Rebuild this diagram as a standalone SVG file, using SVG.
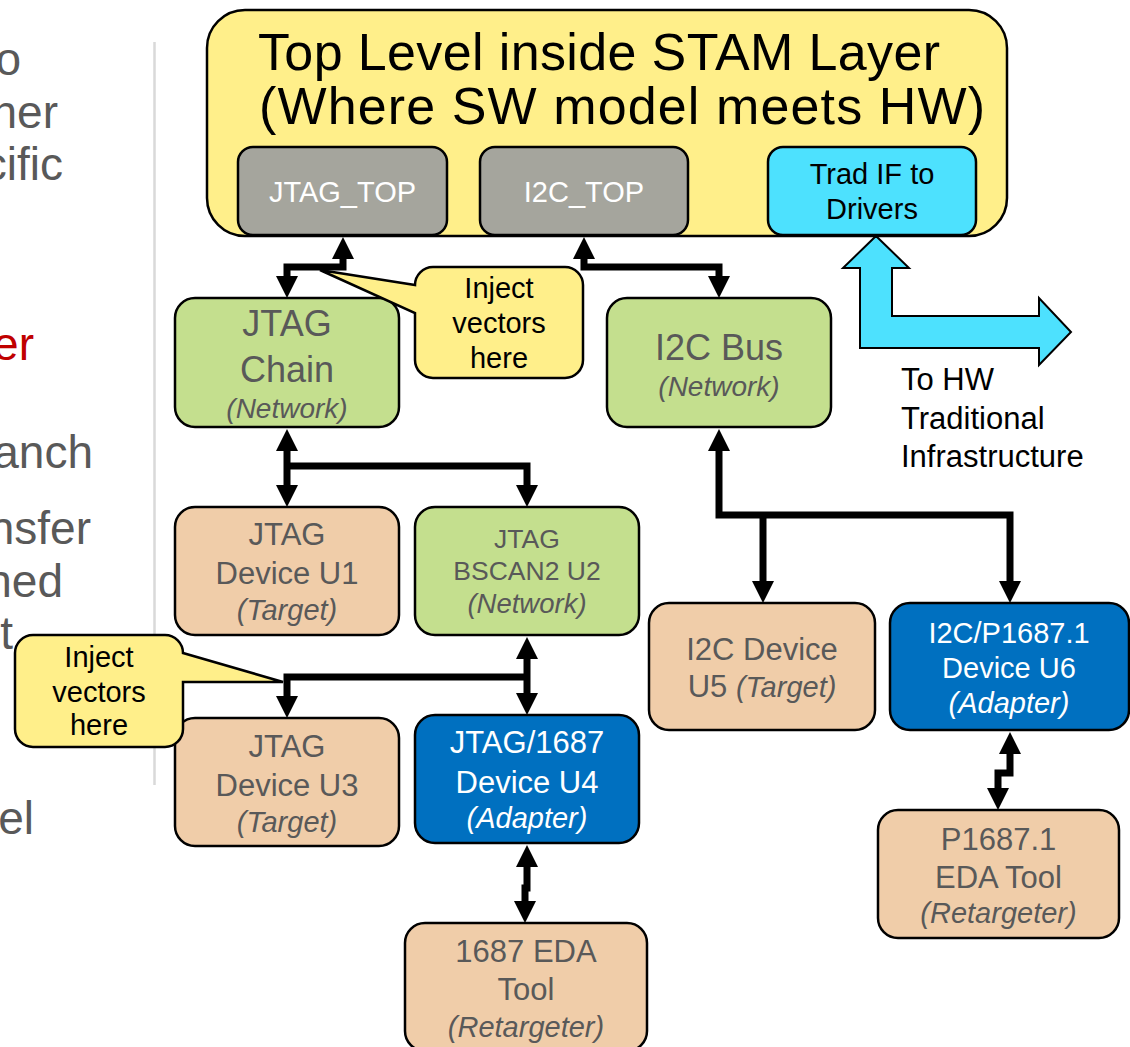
<svg xmlns="http://www.w3.org/2000/svg" width="1130" height="1047" viewBox="0 0 1130 1047">
  <style>
    text { font-family: "Liberation Sans", Arial, sans-serif; }
    .c { text-anchor: middle; }
    .e { text-anchor: end; }
    .box { stroke: #000; stroke-width: 2.5; }
    .green { fill: #C4DF8E; }
    .peach { fill: #F0CDA9; }
    .blue { fill: #0070C0; }
    .gray { fill: #A5A59D; }
    .cyan { fill: #4DE1FE; }
    .yellow { fill: #FFEF8A; }
    .dk { fill: #595959; }
    .wh { fill: #FFFFFF; }
    .bk { fill: #000000; }
    .it { font-style: italic; }
    .side { font-size: 46px; fill: #595959; }
    .conn { stroke: #000; stroke-width: 7; fill: none; marker-end: url(#ah); }
    .both { marker-start: url(#ah); }
  </style>
  <defs>
    <marker id="ah" viewBox="0 -11 22 22" refX="1" refY="0" markerWidth="22" markerHeight="22" markerUnits="userSpaceOnUse" orient="auto-start-reverse">
      <path d="M0,-11 L22,0 L0,11 Z" fill="#000"/>
    </marker>
  </defs>

  <rect width="1130" height="1047" fill="#FFFFFF"/>

  <!-- slide text running off the left edge -->
  <g id="side-text">
    <text class="side e" x="21" y="75">o</text>
    <text class="side e" x="58" y="128">her</text>
    <text class="side e" x="63" y="180">cific</text>
    <text class="side e" x="34" y="360" style="fill:#C00000">er</text>
    <text class="side e" x="93" y="468">anch</text>
    <text class="side e" x="91" y="544">nsfer</text>
    <text class="side e" x="63" y="597">hed</text>
    <text class="side e" x="13" y="649">t</text>
    <text class="side e" x="34" y="834">el</text>
  </g>
  <line x1="154.5" y1="42" x2="154.5" y2="785" stroke="#D9D9D9" stroke-width="2.5"/>

  <!-- top level block -->
  <g id="stam-top">
    <rect class="box yellow" x="207" y="10" width="800" height="226" rx="38"/>
    <text class="bk" x="258" y="70" font-size="52" textLength="682" lengthAdjust="spacing">Top Level inside STAM Layer</text>
    <text class="bk" x="259" y="124" font-size="52" textLength="726" lengthAdjust="spacing">(Where SW model meets HW)</text>
  </g>
  <g id="jtag-top">
    <rect class="box gray" x="238" y="147" width="209" height="88" rx="15"/>
    <text class="c wh" x="342.5" y="202" font-size="29">JTAG_TOP</text>
  </g>
  <g id="i2c-top">
    <rect class="box gray" x="480" y="147" width="208" height="88" rx="15"/>
    <text class="c wh" x="584" y="202" font-size="29">I2C_TOP</text>
  </g>
  <g id="trad-if">
    <rect class="box cyan" x="768" y="147" width="208" height="88" rx="15"/>
    <text class="c bk" x="872" y="184" font-size="29">Trad IF to</text>
    <text class="c bk" x="872" y="219" font-size="29">Drivers</text>
  </g>

  <!-- wide interface arrow to hardware -->
  <g id="hw-arrow">
    <path class="cyan" stroke="#000" stroke-width="2" d="M876,236 L909,268 L892,268 L892,316 L1039,316 L1039,298 L1071,332 L1039,365 L1039,348 L860,348 L860,268 L843,268 Z"/>
    <text class="bk" x="901" y="390" font-size="31">To HW</text>
    <text class="bk" x="901" y="429" font-size="31">Traditional</text>
    <text class="bk" x="901" y="467" font-size="31">Infrastructure</text>
  </g>

  <!-- networks -->
  <g id="jtag-chain">
    <rect class="box green" x="175" y="298" width="224" height="129" rx="20"/>
    <text class="c dk" x="287" y="336" font-size="36">JTAG</text>
    <text class="c dk" x="287" y="382" font-size="36">Chain</text>
    <text class="c dk it" x="287" y="418" font-size="28">(Network)</text>
  </g>
  <g id="i2c-bus">
    <rect class="box green" x="607" y="298" width="224" height="129" rx="20"/>
    <text class="c dk" x="719" y="360" font-size="36">I2C Bus</text>
    <text class="c dk it" x="719" y="396" font-size="28">(Network)</text>
  </g>
  <g id="bscan2-u2">
    <rect class="box green" x="415" y="507" width="224" height="128" rx="20"/>
    <text class="c dk" x="527" y="548" font-size="26.5">JTAG</text>
    <text class="c dk" x="527" y="580" font-size="26.5">BSCAN2 U2</text>
    <text class="c dk it" x="527" y="613" font-size="27.5">(Network)</text>
  </g>

  <!-- targets -->
  <g id="device-u1">
    <rect class="box peach" x="175" y="507" width="224" height="128" rx="20"/>
    <text class="c dk" x="287" y="545" font-size="31">JTAG</text>
    <text class="c dk" x="287" y="584" font-size="31">Device U1</text>
    <text class="c dk it" x="287" y="620" font-size="29">(Target)</text>
  </g>
  <g id="device-u3">
    <rect class="box peach" x="175" y="718" width="224" height="128" rx="20"/>
    <text class="c dk" x="287" y="757" font-size="31">JTAG</text>
    <text class="c dk" x="287" y="796" font-size="31">Device U3</text>
    <text class="c dk it" x="287" y="832" font-size="29">(Target)</text>
  </g>
  <g id="device-u5">
    <rect class="box peach" x="649" y="603" width="226" height="127" rx="20"/>
    <text class="c dk" x="762" y="660" font-size="31">I2C Device</text>
    <text class="c dk" x="762" y="697" font-size="31">U5 <tspan class="it" font-size="29">(Target)</tspan></text>
  </g>

  <!-- adapters -->
  <g id="device-u4">
    <rect class="box blue" x="415" y="715" width="224" height="128" rx="20"/>
    <text class="c wh" x="527" y="753" font-size="31">JTAG/1687</text>
    <text class="c wh" x="527" y="793" font-size="31">Device U4</text>
    <text class="c wh it" x="527" y="828" font-size="29">(Adapter)</text>
  </g>
  <g id="device-u6">
    <rect class="box blue" x="890" y="603" width="239" height="127" rx="20"/>
    <text class="c wh" x="1009" y="643" font-size="29">I2C/P1687.1</text>
    <text class="c wh" x="1009" y="678" font-size="29">Device U6</text>
    <text class="c wh it" x="1009" y="713" font-size="29">(Adapter)</text>
  </g>

  <!-- retargeters -->
  <g id="eda-1687">
    <rect class="box peach" x="405" y="923" width="242" height="128" rx="20"/>
    <text class="c dk" x="526" y="962" font-size="31">1687 EDA</text>
    <text class="c dk" x="526" y="1000" font-size="31">Tool</text>
    <text class="c dk it" x="526" y="1037" font-size="29">(Retargeter)</text>
  </g>
  <g id="eda-p1687">
    <rect class="box peach" x="878" y="810" width="241" height="128" rx="20"/>
    <text class="c dk" x="998.5" y="850" font-size="31">P1687.1</text>
    <text class="c dk" x="998.5" y="888" font-size="31">EDA Tool</text>
    <text class="c dk it" x="998.5" y="923" font-size="29">(Retargeter)</text>
  </g>

  <!-- callouts -->
  <g id="callout-top">
    <path class="box yellow" d="M433,267 H565 A18,18 0 0 1 583,285 V360 A18,18 0 0 1 565,378 H433 A18,18 0 0 1 415,360 V313 L320,270 L415,285 A18,18 0 0 1 433,267 Z"/>
    <text class="c bk" x="499" y="298" font-size="29">Inject</text>
    <text class="c bk" x="499" y="333" font-size="29">vectors</text>
    <text class="c bk" x="499" y="368" font-size="29">here</text>
  </g>
  <g id="callout-mid">
    <path class="box yellow" d="M33,635 H165 A18,18 0 0 1 183,653 L283,682 L183,682 V729 A18,18 0 0 1 165,747 H33 A18,18 0 0 1 15,729 V653 A18,18 0 0 1 33,635 Z"/>
    <text class="c bk" x="99" y="667" font-size="29">Inject</text>
    <text class="c bk" x="99" y="702" font-size="29">vectors</text>
    <text class="c bk" x="99" y="735" font-size="29">here</text>
  </g>

  <!-- connectors -->
  <g id="connectors">
    <path class="conn both" d="M343,258 V267 H287 V277"/>
    <path class="conn both" d="M584,258 V267 H719 V277"/>
    <path class="conn both" d="M287,450 V486"/>
    <path class="conn" d="M287,466 H527 V486"/>
    <path class="conn both" d="M527,658 V694"/>
    <path class="conn" d="M527,677 H287 V697"/>
    <path class="conn both" d="M527,866 V888 H525 V902"/>
    <path class="conn both" d="M719,450 V515 H1010 V582"/>
    <path class="conn" d="M763,515 V582"/>
    <path class="conn both" d="M1010,753 V773 H998 V789"/>
  </g>
</svg>
